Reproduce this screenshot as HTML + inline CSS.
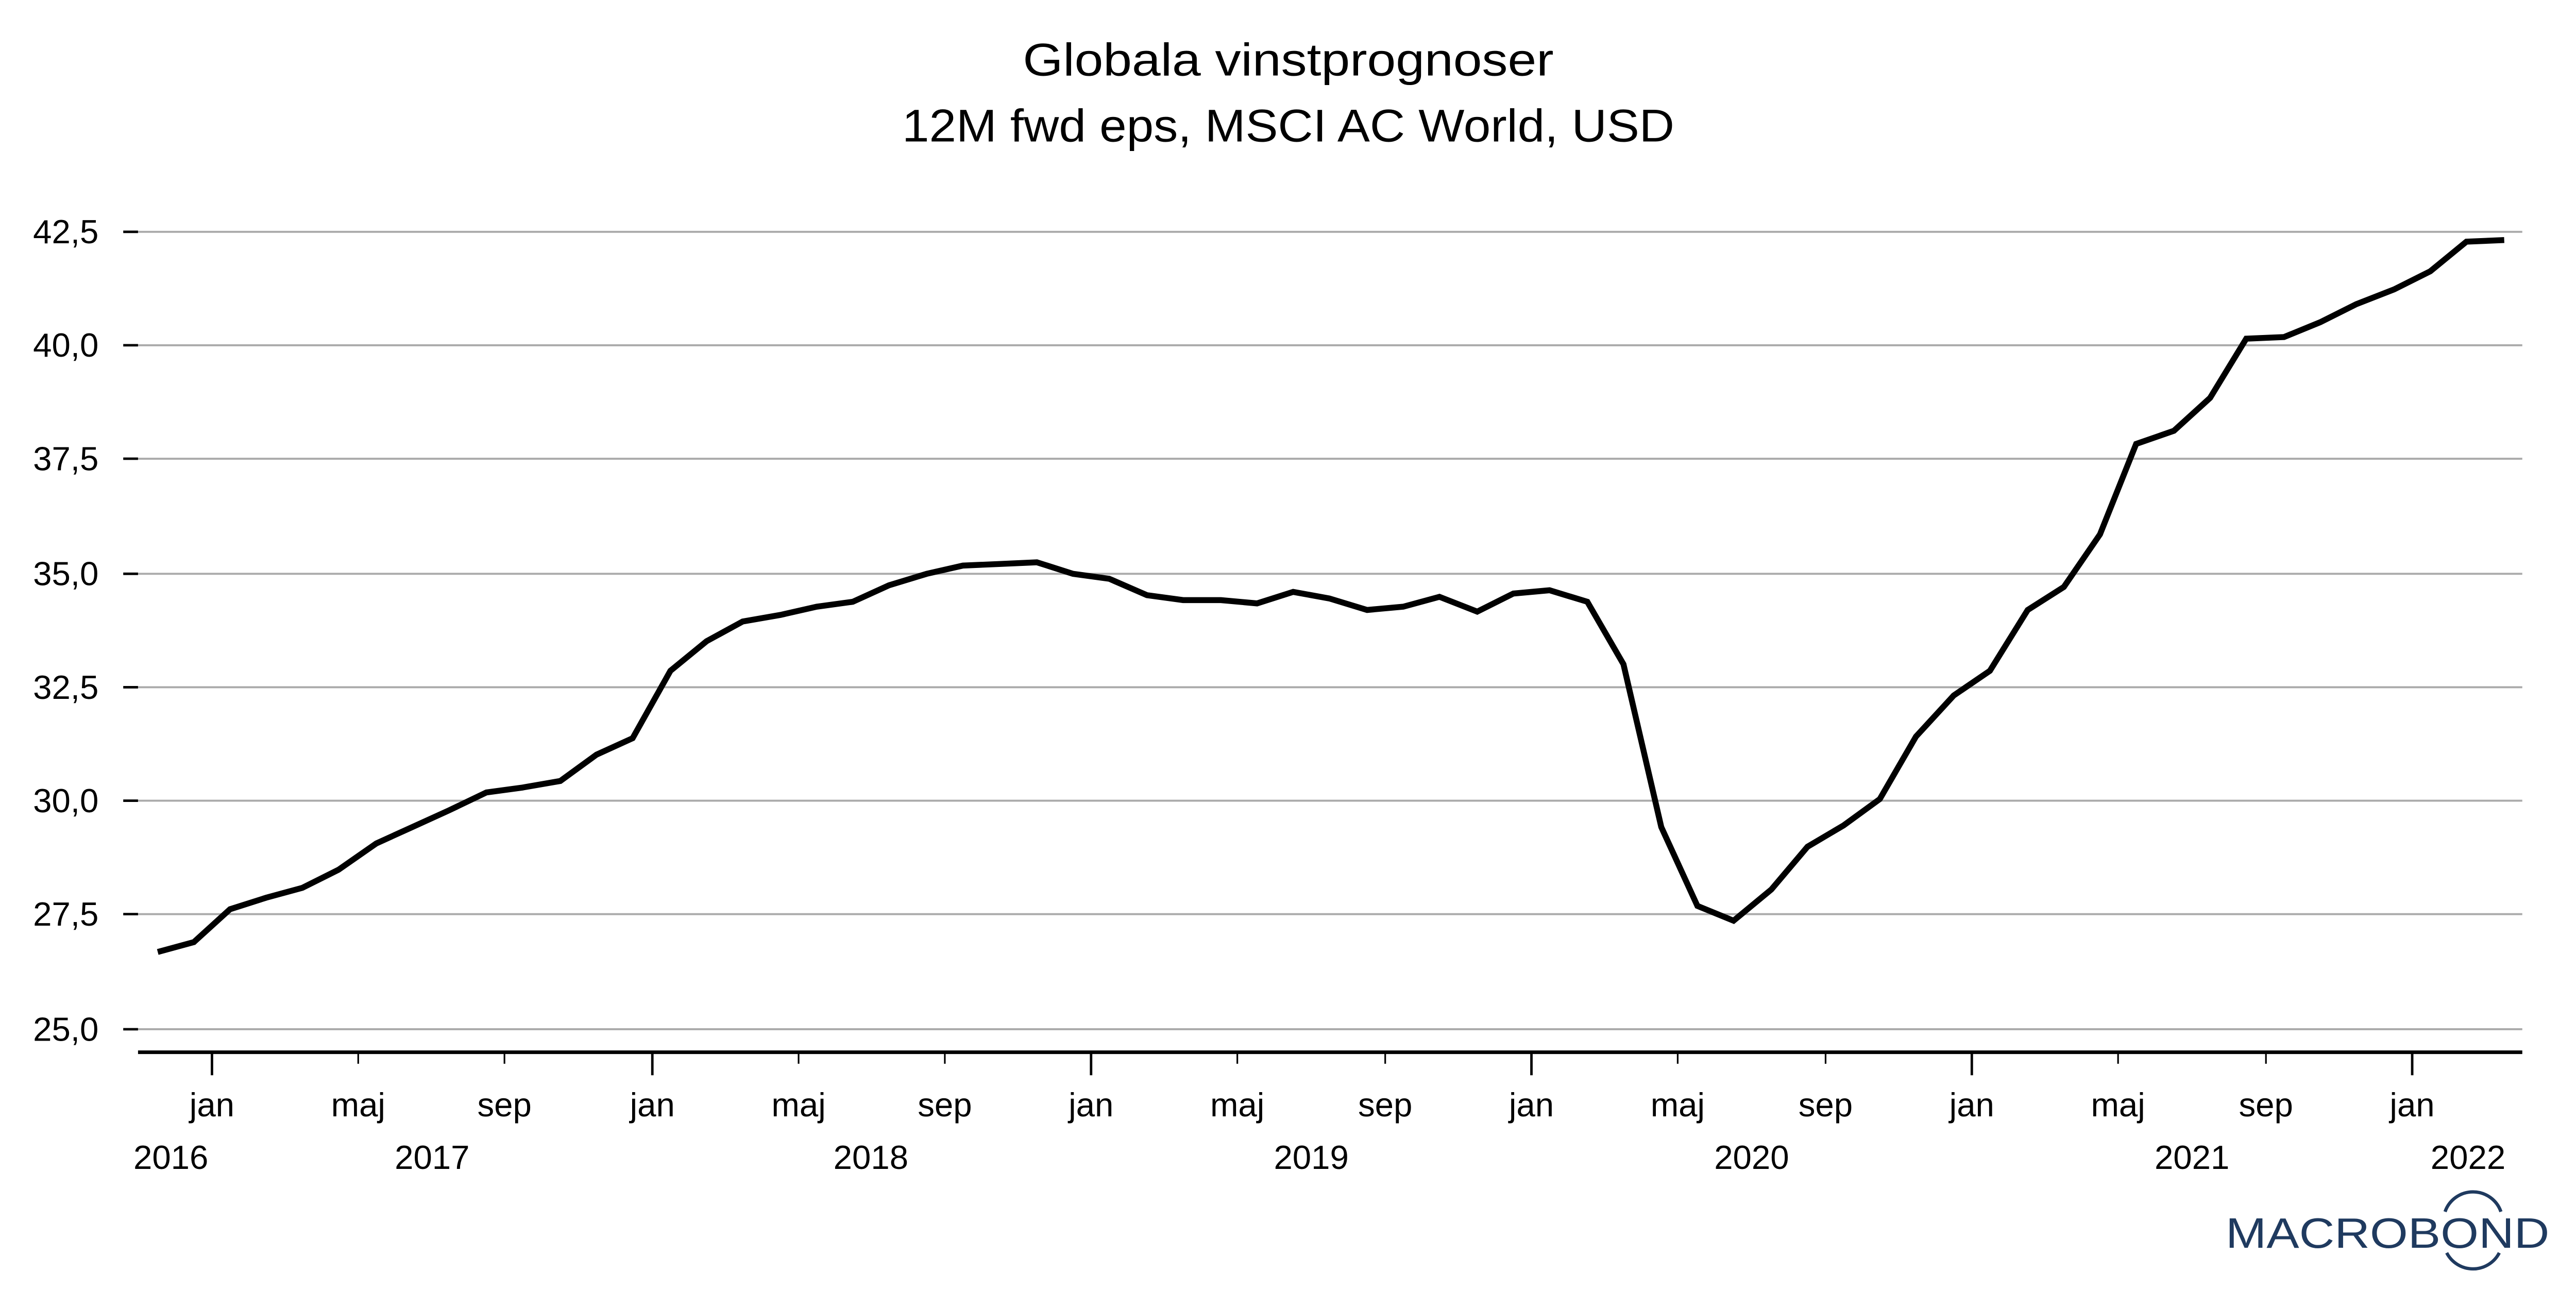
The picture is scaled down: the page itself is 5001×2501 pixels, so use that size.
<!DOCTYPE html>
<html><head><meta charset="utf-8"><style>
html,body{margin:0;padding:0;background:#fff;}
svg{display:block;}
text{font-family:"Liberation Sans",sans-serif;fill:#000;}
</style></head><body>
<svg width="5001" height="2501" viewBox="0 0 1568 784" preserveAspectRatio="none" xmlns="http://www.w3.org/2000/svg">
<rect width="1568" height="784" fill="#fff"/>
<text x="784" y="46" font-size="28" text-anchor="middle" textLength="323" lengthAdjust="spacingAndGlyphs">Globala vinstprognoser</text>
<text x="784" y="86" font-size="28" text-anchor="middle" textLength="470" lengthAdjust="spacingAndGlyphs">12M fwd eps, MSCI AC World, USD</text>
<g stroke="#aaa" stroke-width="1.2">
<line x1="84" x2="1535" y1="141" y2="141"/>
<line x1="84" x2="1535" y1="210" y2="210"/>
<line x1="84" x2="1535" y1="279" y2="279"/>
<line x1="84" x2="1535" y1="349" y2="349"/>
<line x1="84" x2="1535" y1="418" y2="418"/>
<line x1="84" x2="1535" y1="487" y2="487"/>
<line x1="84" x2="1535" y1="556" y2="556"/>
<line x1="84" x2="1535" y1="626" y2="626"/>
</g>
<g stroke="#000" stroke-width="1.5">
<line x1="75" x2="84" y1="141" y2="141"/>
<line x1="75" x2="84" y1="210" y2="210"/>
<line x1="75" x2="84" y1="279" y2="279"/>
<line x1="75" x2="84" y1="349" y2="349"/>
<line x1="75" x2="84" y1="418" y2="418"/>
<line x1="75" x2="84" y1="487" y2="487"/>
<line x1="75" x2="84" y1="556" y2="556"/>
<line x1="75" x2="84" y1="626" y2="626"/>
</g>
<g font-size="20.5" text-anchor="end">
<text x="60" y="148">42,5</text>
<text x="60" y="217">40,0</text>
<text x="60" y="286">37,5</text>
<text x="60" y="356">35,0</text>
<text x="60" y="425">32,5</text>
<text x="60" y="494">30,0</text>
<text x="60" y="563">27,5</text>
<text x="60" y="633">25,0</text>
</g>
<line x1="84" x2="1535" y1="640" y2="640" stroke="#000" stroke-width="2.2"/>
<g stroke="#000" stroke-width="1.5">
<line x1="129" x2="129" y1="640" y2="654"/>
<line x1="397" x2="397" y1="640" y2="654"/>
<line x1="664" x2="664" y1="640" y2="654"/>
<line x1="932" x2="932" y1="640" y2="654"/>
<line x1="1200" x2="1200" y1="640" y2="654"/>
<line x1="1468" x2="1468" y1="640" y2="654"/>
</g>
<g stroke="#000" stroke-width="1">
<line x1="218" x2="218" y1="640" y2="647"/><line x1="307" x2="307" y1="640" y2="647"/>
<line x1="486" x2="486" y1="640" y2="647"/><line x1="575" x2="575" y1="640" y2="647"/>
<line x1="753" x2="753" y1="640" y2="647"/><line x1="843" x2="843" y1="640" y2="647"/>
<line x1="1021" x2="1021" y1="640" y2="647"/><line x1="1111" x2="1111" y1="640" y2="647"/>
<line x1="1289" x2="1289" y1="640" y2="647"/><line x1="1379" x2="1379" y1="640" y2="647"/>
</g>
<g font-size="20.5" text-anchor="middle">
<text x="129" y="679">jan</text><text x="218" y="679">maj</text><text x="307" y="679">sep</text>
<text x="397" y="679">jan</text><text x="486" y="679">maj</text><text x="575" y="679">sep</text>
<text x="664" y="679">jan</text><text x="753" y="679">maj</text><text x="843" y="679">sep</text>
<text x="932" y="679">jan</text><text x="1021" y="679">maj</text><text x="1111" y="679">sep</text>
<text x="1200" y="679">jan</text><text x="1289" y="679">maj</text><text x="1379" y="679">sep</text>
<text x="1468" y="679">jan</text>
<text x="104" y="711">2016</text><text x="263" y="711">2017</text><text x="530" y="711">2018</text>
<text x="798" y="711">2019</text><text x="1066" y="711">2020</text><text x="1334" y="711">2021</text>
<text x="1502" y="711">2022</text>
</g>
<polyline fill="none" stroke="#000" stroke-width="3.6" stroke-linejoin="miter" points="96,579 118,573 140,553 162,546 184,540 206,529 229,513 251,503 273,493 296,482 318,479 341,475 363,459 385,449 408,408 430,390 452,378 475,374 497,369 519,366 541,356 564,349 586,344 609,343 631,342 653,349 675,352 698,362 720,365 743,365 765,367 787,360 809,364 832,371 854,369 876,363 899,372 921,361 943,359 966,366 988,404 1011,503 1033,551 1055,560 1078,541 1100,515 1122,502 1144,486 1166,448 1189,423 1211,408 1234,371 1256,357 1278,325 1300,270 1323,262 1345,242 1367,206 1390,205 1412,196 1434,185 1457,176 1479,165 1501,147 1524,146"/>
<text x="1453" y="759" font-size="26" text-anchor="middle" style="fill:#1f3a5f" textLength="197" lengthAdjust="spacingAndGlyphs">MACROBOND</text>
<path d="M1488,737 A18,18 0 0 1 1522,737" fill="none" stroke="#1f3a5f" stroke-width="2"/>
<path d="M1489,762 A18,18 0 0 0 1521,762" fill="none" stroke="#1f3a5f" stroke-width="2"/>
</svg>
</body></html>
